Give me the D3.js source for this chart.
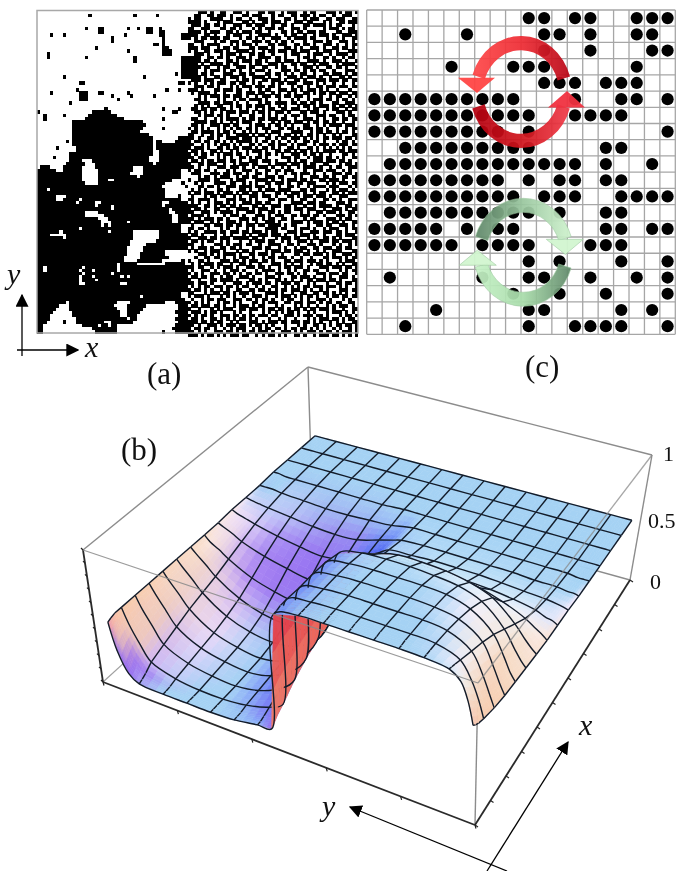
<!DOCTYPE html>
<html lang="en">
<head>
<meta charset="UTF-8">
<title>Lattice domains and density surface</title>
<script src="https://d3js.org/d3.v7.min.js"></script>
<style>
    body { margin: 0; background: #fff; }
    svg { display: block; filter: blur(0.45px); }
    text { font-family: "Liberation Serif", serif; fill: #111; }
    .it { font-style: italic; }
</style>
</head>
<body>
<svg width="676" height="871"></svg>
<script>
// ---- panel (a): black runs per row for the left columns (0-46), then the noisy right columns
const domainRuns = ["","16 30 37","","","","15 19-20 28 31 34-35 38","19-20 34-35 38-39","4 8 27 38-39 45-46","23 39 45-46","23 39","36-37 39","18 39-40","28 39-41","3 39-41 ","3 15 30 45-46","30 45-46","45-46","45-46","45-46","43 45-46","8 33 45-46","","13-14 44-45","","12 40 44","4 13-15 19-20 28","13-15 23 29 36","13-15 25","10","","21 39 44","0 17-22 42-43","2 8 16-24","2 15-26 39","11-32","11-33","11-32 39","11-31","11-34","11-35 44-46","9 11-35 37-38 43-46","11-35 37-46","6 12-35 37-46","12-35 38-46","10-35 38-46","5 10-34 38-46","10-13 17-34 38-46","9-14 18-35 37-46","1-3 8-13 18-29 33-46","0-5 8-13 19-29 33-44","0-13 19-28 33-44","0-13 19-30 32-44","0-13 19-21 24-41","0-14 19-39 45","0-38 46","0-2 4-39","0-39","0-5 9-39 44","0-5 8-12 14-44","0-11 13-17 20-38 41-46","0-17 19-22 24-38 40-46","0-22 24-40 42-46","0-14 19-40 43-46","0-14 21-41 44-46","0-18 22-41 44-46","0-19 23-27 29-41 44-46","0-19 21 23-44","0-12 14-44","0-6 8-21 23-29 38-44","0-3 9-29 38-46","0-7 9-29 38-46","0-28 37-46","0-28 34-46","0-27 33-46","0-27 33-39","0-27 32-39","0-26 32-40","0-26 31-38 45","0-24 26-30 40-45","0-1 3-13 15-24 26-46","0-1 3-12 14-16 18-24 26-46","0-13 15-22 24-46","0-12 14-16 18-25 27 29-46","0-12 14-17 19-46","0-12 15-25 28-46","0-46","0-46","0-44","0-31 33-44","0-45","0-8 10-24 29-39 43-46","0-6 10-23 28-33 44-46","0-5 10-24 28-32 44-46","0-4 11-25 28-31 43-46","0-3 11-25 28-30 44-46","0-3 12-27 29-30 43-46","0-2 8 12-20 23-29 44-46","0-1 14-18 20-21 23-24 43-46","0-1 17-24 42-46","0-1 18-24 39 43-46"];
const noiseRows = [
"...###.#..##..###.#...##.##..#.###..#.##...###.#.##.#",
"..##..##.###.#...##.###...#.##..##.###.#.##..#..###..",
"#.##...####..#.##..#..###.#...##.#..#.###..##.###..##",
"####.#...#.###...##.#..##.###.#..###.##...#.#..##.###",
".###.##.##.#..###.##.###..#..##.#...##.####.#.##...#.",
"##..###...##.##.#...#.#.###.##..###.#.....#.###.#.##.",
"####.#.###..##.#.###.##..#...##.#.##.###.##...##..###",
"###..##.#...#.###..#..####.#..#.##..#..#.###.#..###.#",
"#.#.##.###.##...#.##.#.#..###..#.####.##...#.##.#..##",
"..###...#.##.###.#..###.##.#.##.#...#..###.##..###.#.",
"##..#.####...#.#.###.#...##.###..##.##.#..###.#..#.##",
"###.###..#.##.##...##.###.#...##.#.#..###.#..##.##.#.",
"#.#..##.###.#..####.#..#.##.###.##.###..#.###.#...###",
"..###.#...#.###.#..##.##..#...#.###..#.###..#.####.#.",
"####..##.##.#..###.#..####.##.#...#.##.#..##.#..#.##.",
"####.##.#...##.#.###.##.#..##.###.#..####.#..###.#..#",
"###.#..####.#.##...#.##..###.#..##.##..#.###..#.####.",
"####.##..#.##..###.##..##..#.##..#..###.#..##.##.#..#",
"###..#.###.#.##.#..#.###.#...###.##.#.##.##..#...###.",
"###.##.#...###..##.##...##.##.#.#..##..#..##.###.#.##",
"####.#..##.#.###.#..####.#..#..###.#.###.#..#..##.#..",
".###.###..##...#.##.#..##.###.#..##.#...###.###.##.##",
"#.#..#.#.###.##.##..#.#...#.##.###..###.#.#..#..#..#.",
"..###.##.#...#.#.###.###.##.#...#.##.#..##.###.###.##",
"###.#...##.###.##..#..#.##..###.##.#.###.#.#..#...#..",
".#.####.#..#...##.###.##..#.#..#.#..##.#.##.##.###.##",
"...#.#.###.##.###.#..#.###.##.##.###.#...#..#.##..#.#",
"..##.#...#.#..#.##.####.#...#...#.#..#.###.##.#.##.#.",
"...####.##.###.#..#...#.##.####.##.##.##.#...##..###.",
"..#.#.#..##..#.##.##.###.#..#.#...#.##.#.###.#.##.#.#",
".##.##.##.##.#..#.#..#.#.##..##.###..#.##..#.##..#.##",
"..##.#.#..#.###.###.#.##.#.###.#...##.###.#...###.#..",
"...#.###.##.#...#..##..#.#.#..#.###.#...###.##..#.##.",
".##..#..#.#.####.#.##.##.###.##..#..###.#.#..##.##.##",
"..####.##.#..#.#.###..#...#.#.##.###.#.##.##.#..#..#.",
".##.#..###.##.##...#.###.#.##.#.#...##..#.#.####.###.",
"#.#.#.#..#.#.#.##.##.#.###..##.##.#.###.##.#..#..#.##",
".##.####.#.##.#..#.#.#..#.###...####..#.##.##.#.##.#.",
"##..#..#.##.#..####.#.##.#..#.##.#.#.##.#.#..#.#...##",
"##.#..##.#..####.###.#..##.#.##.###.#.#.#.##.###.##.#",
"#.##.##.##.#.#.#####.#.##.#.#..#.#..##.##.#...#.##.#.",
"##..#.#.#.###.#.#..##.#..##.###.#.###..#.###.#.###.##",
"#.###.#..##.#.##.###.#.##.#.#..##.#..##.#.#.#.#.#.#..",
".##.#..##.#..#.#..#.###.#..##.##.#.##.#.#.####.##.###",
"#.#.##.#.#.###.##.#...#.##.#.#..###.#.##.#..#...##.#.",
"##.###...#.#.#..##.#.##.#....###.##..#.###.##.#.#..##",
".##.#.##.###.##.#..###.###.#...#.#.##..###.###.##.#..",
"#..##.###..#..#.###.##...#.####.###.#.##..##...#.##.#",
"##.#..#..###.###.#..#.###.#..#.#..#.####.#..#.##..###",
"#.##.##.#...#.#..###.#..##.##.###...#..###.###..#.#..",
".###...###.##.###.#..##.#..#..#.##.###.#..#..###.##.#",
"...#.##.#.###..#.##.##..###.##...#.#..###.##.#..##.##",
"#..####.##...#.###...####.#..#.###.##.#..##.###.#...#",
"..#.#...####.##..#.#.#..##.###.#..##.###...#.#.###.##",
"...##.##.#..###.####.###.#..#..##.#..#.####.###...#.#",
".#.#.#...##.#...##.#..#.###.####...##.##...#.#.###.#.",
"#.##.###.#.###.#.##.##.#...##.#.###.#..#.##..##.#.###",
".#...#.##.##..#.#..###.###.#...##.#.###.###.#..###...",
"##.####.#...###.##.#.#...##.###.#..##..#..##.#.#..###",
".#.#..#.###.#.#..###.##.##..#...####.###.##...###.#..",
"###..##.#.##.##.#...##.#..###.##.#..#..#.####.#..##.#",
"#.##.#..##..#..####.#.###.#...##.###.###..#..###.#.##",
"##..###.#.####.#..###.#..##.#.##...#.#..##.###.#..##.",
".####.#....#.###.#...###.#.###..##.###.##.#...###.#.#",
"##.#.###.##.#...###.##.#.##..##.#...#.##...###.#.##..",
"#.###..#.#..###.#.#..#..###.#...####.#.###.#.##.#..##",
".#...##.###.##.##.###.##.####.#.##...#..##.##..###.#.",
"##.##.#...#.#..#..#.#...####.##..#.###.#..#.###..#.##",
"#.#..####.##.###.##.###.#.##...###.#..###.###.##.#..#",
".##.#...#..#.#...#.#..###.###.#..#.###.#..#...##.###.",
"#..###.##.###.#####.##.#...#.###.##..#.##.##.#.#...##",
".##.#.##..#.#...#..#.###.##..#.#..###.#..###.##.###.#",
"##..#...###.#.###.##..#..####..##.#..###.#...#.#..#.#",
".#.###.#..##.##.#...###.##..#.#..#.##..##.###.##.##..",
"#.#..#.###.#...#.##.#...#.###.##.###.#..#.#..###...##",
"...###.#.#.####.#..##.###.#..#...##.##.###.#.#..###.#",
"..#..##.##.#..#.###.#..#.##.###.#..#..#...##.###.#.##",
"#..##.#...###.##.#.###.##.#...##.###.###.#.#...#.###.",
".#.#.###.##..#..##.#..#...###.#.#..#..#.##.##.#.#..##",
"##.##..#.#.###.#..###.##.#..#.##.###.#...###.###.##.#",
".#..###.#..#.###.#...#.####.#..#.#..##.##..#...#.#.##",
"#.#.#..###.##.#.#.##.##.#..###.##.#.#...###.###.##..#",
".##.##.#..#.##..###.#...###.#...##.###.#..#.#..###.#.",
"#..#...##.####.#...##.#.#..##.#.#..#.##.###.##.#...##",
"##.###.#...#..###.#.###.##.#.###.##..#.#...#..##.##.#",
".#.#.##.###.##.#.##..#.#..##..#.#.#.##.###.###.#.#..#",
"#.##.#.#..#.#..##..##.##.#.#.##.###.#.#..#.#...###.##",
"##...#.###.##.#.###.#...####.#..#..##..##.##.#.#.#..#",
"#.###.#...#.#.#..#..###.#..#.###.#.#.##.#..#.##.##.##",
".#..#.##.###..###.##.#.##.#..#.##..#.#..###.#...#.#..",
"#.#.#.#..#.##.#.#...##.#.###..##.###.###.#.##.##..##.",
".##.###.##.#..#.###.#.##...#.#...#.#.#..#..#.#.###.#.",
"#..#...#.#.###..##.###.#.##.##.#.##.#.##.###.#..#..##",
".###.#.##.#...#.#..#...#.#.#.#.##.#..#.#...#.###.#.#.",
"#.#.##.#..###.##.#.##.###.##..###.#.###.##.#...#.##.#",
".##.#..##.#.#.#.##.#.#...#..#.#..#...#.#.###.##.#.##.",
"###.##.#.##..#.#...###.#.###.##.###.##.#.#..#.#.#..##",
"##.#..###.#.###.##.#.##.#.#...#...#.#..##.#.#.##.##.#",
"#.##.##.#..#.#.###..#.#.##.##.#.##.##.#.#.#..#.#..#.#",
"##.#.#..###.##.#.#.##.###.#..###.#.#.###.#.##.#.###.#",
"###.#.##.#.#.###.##..#.#.##.#.#..##.#..#.###.##.#.#.#"
];

// ---- panel (c): occupied columns per row of the 20x20 lattice
const occupied = [
    [10,11,13,14,17,18,19],
    [2,6,11,12,14,17,18],
    [11,14,18,19],
    [5,9,10,11,17],
    [11,12,13,15,16,17],
    [0,1,2,3,4,5,6,7,8,9,13,16,17,19],
    [0,1,2,3,4,5,6,7,8,9,10,13,14,15,16],
    [0,1,2,3,4,5,6,7,8,10,19],
    [2,3,4,5,6,7,8,9,10,15,16],
    [1,2,3,4,5,6,7,8,9,10,11,12,13,15,18],
    [0,1,2,3,4,5,6,7,8,10,12,13,15,16],
    [0,1,2,3,4,5,6,7,8,9,11,12,13,16,17,18,19],
    [1,2,3,4,5,6,7,8,9,10,12,15,16],
    [0,1,2,3,4,6,8,9,15,16,18,19],
    [0,1,2,3,4,5,7,8,9,10,14,15,16],
    [10,12,16,19],
    [1,7,10,11,14,17,19],
    [9,12,15,19],
    [4,10,11,16,18],
    [2,10,13,14,15,16,19]
];

// ---- panel (b): surface height on a grid of x and y nodes, mesh drawn on some of them
const xNodes = [0,.015,.035,.0667,.1333,.2,.2667,.3333,.4,.4667,.5333,.6,.6667,.7333,.8,.8667,.9333,1];
const yNodes = [0,.015,.035,.0667,.1333,.2,.2667,.3333,.4,.4667,.5333,.56,.6,.6667,.7333,.8,.8667,.9333,.96,.985,1];
const xMesh = [0,3,4,5,6,7,8,9,10,11,12,13,14,15,16,17];
const yMesh = [0,3,4,5,6,7,8,9,10,12,13,14,15,16,17,20];
const plateauRow = [.46,.46,.46,.46,.46,.46,.46,.46,.46,.46,.46,.46,.46,.46,.46,.46,.46,.46,.46,.46,.46];
const heights = [
    [.62,.78,.90,.96,.98,.985,.985,.985,.985,.98,.93,.06,.05,.02,.01,.01,.01,.02,.07,.22,.42],
    [.60,.76,.88,.95,.98,.985,.985,.985,.985,.98,.93,.08,.05,.02,.01,.01,.01,.03,.10,.27,.43],
    [.58,.72,.85,.94,.98,.99,.99,.99,.99,.98,.94,.11,.06,.02,.01,.01,.015,.05,.14,.30,.44],
    [.56,.68,.80,.92,.98,.99,.99,.99,.99,.98,.94,.14,.08,.03,.01,.01,.03,.09,.20,.33,.44],
    [.53,.62,.74,.88,.97,.99,.99,.99,.99,.98,.93,.22,.12,.04,.01,.02,.05,.13,.24,.35,.44],
    [.51,.58,.69,.84,.95,.98,.99,.99,.99,.98,.93,.28,.15,.05,.015,.03,.07,.17,.27,.37,.44],
    [.50,.55,.65,.79,.92,.97,.98,.98,.98,.97,.92,.33,.17,.06,.02,.04,.09,.21,.30,.38,.44],
    [.49,.53,.60,.72,.87,.93,.95,.96,.96,.95,.89,.36,.18,.07,.04,.06,.12,.24,.32,.39,.44],
    [.48,.51,.56,.65,.79,.85,.88,.89,.89,.84,.72,.38,.20,.09,.08,.10,.16,.27,.34,.40,.44],
    [.47,.50,.53,.58,.65,.70,.72,.73,.73,.70,.60,.50,.31,.15,.14,.17,.22,.31,.36,.40,.44],
    [.47,.49,.50,.53,.56,.58,.59,.60,.60,.58,.54,.50,.38,.24,.22,.25,.29,.35,.39,.42,.44],
    [.47,.48,.49,.50,.51,.52,.53,.53,.53,.52,.51,.47,.41,.33,.30,.32,.35,.39,.41,.43,.45],
    [.46,.47,.47,.48,.48,.49,.49,.49,.49,.49,.48,.46,.43,.38,.37,.38,.40,.42,.43,.44,.45],
    [.46,.46,.46,.47,.47,.47,.47,.47,.47,.47,.47,.46,.44,.43,.42,.42,.43,.44,.45,.45,.45],
    [.46,.46,.46,.46,.46,.46,.46,.46,.46,.46,.46,.46,.46,.45,.45,.45,.45,.45,.45,.46,.46],
    plateauRow,
    plateauRow,
    plateauRow
];
const zTickLabels = ["0", "0.5", "1"];

// ---- page layout
const svg = d3.select("svg");
const defs = svg.append("defs");

// panel (a)
const boxA = { left: 37, top: 10.5, right: 358, bottom: 333 };
const colA = d3.scaleLinear().domain([0, 100]).range([boxA.left, boxA.right]);
const rowA = d3.scaleLinear().domain([0, 100]).range([boxA.top, boxA.bottom]);
const gA = svg.append("g").attr("shape-rendering", "crispEdges");
const cellsA = [];
domainRuns.forEach((runs, r) => {
    runs.trim().split(/\s+/).filter(s => s).forEach(s => {
        const [a, b] = s.split("-").map(Number);
        cellsA.push({ r: r, c0: a, c1: (b === undefined ? a : b) + 1 });
    });
});
noiseRows.forEach((row, r) => {
    row.slice(0, 53).split("").forEach((ch, i) => {
        if (ch === "#") cellsA.push({ r: r, c0: 47 + i, c1: 48 + i });
    });
});
gA.selectAll("rect.cell").data(cellsA).enter().append("rect")
    .attr("class", "cell")
    .attr("x", d => colA(d.c0))
    .attr("y", d => rowA(d.r))
    .attr("width", d => colA(d.c1) - colA(d.c0))
    .attr("height", d => rowA(d.r + 1) - rowA(d.r) + 0.5)
    .attr("fill", "#000");
svg.append("rect")
    .attr("x", boxA.left).attr("y", boxA.top)
    .attr("width", boxA.right - boxA.left).attr("height", boxA.bottom - boxA.top)
    .attr("fill", "none").attr("stroke", "#a8a8a8").attr("stroke-width", 1.5);

// arrow markers
defs.append("marker").attr("id", "head")
    .attr("viewBox", "0 0 10 10").attr("refX", 9).attr("refY", 5)
    .attr("markerWidth", 13).attr("markerHeight", 13).attr("markerUnits", "userSpaceOnUse")
    .attr("orient", "auto")
    .append("path").attr("d", "M0,0L10,5L0,10Z").attr("fill", "#000");

function arrow(x1, y1, x2, y2) {
    svg.append("line")
        .attr("x1", x1).attr("y1", y1).attr("x2", x2).attr("y2", y2)
        .attr("stroke", "#000").attr("stroke-width", 1.3)
        .attr("marker-end", "url(#head)");
}
arrow(22, 356, 22, 295);
arrow(17, 350, 78, 350);
svg.append("text").attr("class", "it").attr("x", 7).attr("y", 284).attr("font-size", 30).text("y");
svg.append("text").attr("class", "it").attr("x", 85).attr("y", 357).attr("font-size", 30).text("x");
svg.append("text").attr("x", 147).attr("y", 384).attr("font-size", 31).text("(a)");
svg.append("text").attr("x", 525).attr("y", 377).attr("font-size", 31).text("(c)");
svg.append("text").attr("x", 121).attr("y", 460).attr("font-size", 31).text("(b)");

// panel (c)
const boxC = { left: 366.7, top: 10, right: 675.3, bottom: 334.3 };
const colC = d3.scaleLinear().domain([0, 20]).range([boxC.left, boxC.right]);
const rowC = d3.scaleLinear().domain([0, 20]).range([boxC.top, boxC.bottom]);
const gC = svg.append("g");
gC.selectAll("line.v").data(d3.range(21)).enter().append("line")
    .attr("x1", d => colC(d)).attr("x2", d => colC(d))
    .attr("y1", boxC.top).attr("y2", boxC.bottom)
    .attr("stroke", "#a6a6a6").attr("stroke-width", 1.3);
gC.selectAll("line.h").data(d3.range(21)).enter().append("line")
    .attr("y1", d => rowC(d)).attr("y2", d => rowC(d))
    .attr("x1", boxC.left).attr("x2", boxC.right)
    .attr("stroke", "#a6a6a6").attr("stroke-width", 1.3);
const dots = occupied.flatMap((cols, r) => cols.map(c => ({ r: r, c: c })));
gC.selectAll("circle").data(dots).enter().append("circle")
    .attr("cx", d => colC(d.c + 0.5))
    .attr("cy", d => rowC(d.r + 0.5))
    .attr("r", 6.1)
    .attr("fill", "#000");

function gradient(id, stops) {
    const g = defs.append("linearGradient").attr("id", id)
        .attr("gradientUnits", "userSpaceOnUse")
        .attr("x1", -52).attr("x2", 52).attr("y1", 0).attr("y2", 0);
    stops.forEach((c, i) => g.append("stop").attr("offset", i / (stops.length - 1)).attr("stop-color", c));
}
gradient("redTop", ["#ff4a4a", "#ee2c34", "#b40414"]);
gradient("redBot", ["#b40010", "#d0141c", "#f23e4c"]);
gradient("greenTop", ["#587f62", "#9ac79f", "#d4f7d2"]);
gradient("greenBot", ["#c8f3c8", "#a8dcaa", "#587f62"]);

// one rotation sign: two arcs and their heads, all relative to the centre
function cycle(cx, cy, sy, outer, inner, top, bottom) {
    const g = gC.append("g").attr("transform", `translate(${cx},${cy}) scale(1,${sy})`);
    [top, bottom].forEach(a => {
        g.append("path")
            .attr("d", d3.arc().innerRadius(inner).outerRadius(outer)
                .startAngle(a.from * Math.PI / 180).endAngle(a.to * Math.PI / 180)())
            .attr("fill", `url(#${a.fill})`)
            .attr("stroke", a.edge).attr("stroke-width", a.edge === "none" ? 0 : 0.6)
            .attr("opacity", 0.93);
        g.append("path")
            .attr("d", d3.line()(a.head) + "Z")
            .attr("fill", a.headFill)
            .attr("stroke", a.edge).attr("stroke-width", a.edge === "none" ? 0 : 0.6)
            .attr("opacity", 0.95);
    });
}
cycle(521, 92, 1.1, 51, 38,
    { from: -72, to: 74, fill: "redTop", edge: "none", headFill: "#ff4644", head: [[-63, -13], [-26, -13], [-44, 1]] },
    { from: 107, to: 253, fill: "redBot", edge: "none", headFill: "#f03240", head: [[27, 14], [64, 14], [46, -1]] });
cycle(523.3, 252.3, 1.08, 50, 37,
    { from: -73, to: 73, fill: "greenTop", edge: "#9cc8a0", headFill: "#d2f6d0", head: [[23, -12], [60, -12], [42, 2]] },
    { from: 107, to: 254, fill: "greenBot", edge: "#9cc8a0", headFill: "#d2f6d0", head: [[-64, 12], [-27, 12], [-46, -2]] });

// panel (b): box corners as seen in the picture
const floorC = { F: [475, 825], R: [630, 580], B: [312, 492], L: [103, 682] };
const topC = { F: [478, 683], R: [652, 455], B: [308, 367], L: [83, 550] };
const lerp = (a, b, t) => [a[0] + (b[0] - a[0]) * t, a[1] + (b[1] - a[1]) * t];
function bilerp(c, x, y) { return lerp(lerp(c.F, c.R, x), lerp(c.L, c.B, x), y); }
const domX = d3.scaleLinear().domain([0, 1]).range([0.035, 1]);
const domY = d3.scaleLinear().domain([0, 1]).range([0.025, 0.985]);
function project(x, y, z) {
    return lerp(bilerp(floorC, domX(x), domY(y)), bilerp(topC, domX(x), domY(y)), z);
}

const boxLine = (a, b, col, w) => svg.append("line")
    .attr("x1", a[0]).attr("y1", a[1]).attr("x2", b[0]).attr("y2", b[1])
    .attr("stroke", col).attr("stroke-width", w);

// back edges go under the surface
boxLine(topC.L, topC.B, "#8c8c8c", 1.4);
boxLine(topC.B, topC.R, "#8c8c8c", 1.4);
boxLine(topC.B, floorC.B, "#8c8c8c", 1.4);
boxLine(topC.R, floorC.R, "#8c8c8c", 1.4);
boxLine(floorC.R, lerp(floorC.R, floorC.B, 0.26), "#8c8c8c", 1.4);
boxLine(floorC.L, lerp(floorC.L, floorC.B, 0.14), "#a0a0a0", 1.2);
boxLine(floorC.F, topC.F, "#8c8c8c", 1.4);
boxLine(topC.L, floorC.L, "#2a2a2a", 1.8);
boxLine(floorC.L, floorC.F, "#2a2a2a", 1.8);
boxLine(floorC.F, floorC.R, "#2a2a2a", 1.8);

function edgeTicks(a, b, count, dx, dy) {
    const s = d3.scaleLinear().domain([0, 1]);
    s.ticks(count).forEach(t => {
        const p = lerp(a, b, s(t));
        boxLine(p, [p[0] + dx, p[1] + dy], "#222", 1.2);
    });
}
edgeTicks(floorC.L, topC.L, 10, -2, -2);
edgeTicks(floorC.L, floorC.F, 5, 1, 3.5);
edgeTicks(floorC.F, floorC.R, 10, 3, 2);

// surface colours from the slope of the height
const sky = "#a5d2f4";
const riseY = d3.scaleLinear().domain([0, .14, .32, .6, .86, .975, .995])
    .range([sky, "#c4dcf8", "#f6eafb", "#fae8e0", "#f8d8c0", "#f8c8a8", "#ff8c94"]).clamp(true);
const fallY = d3.scaleLinear().domain([0, .25, .6, 1])
    .range([sky, "#7f9ff8", "#4058f0", "#2a32d0"]).clamp(true);
const riseX = d3.scaleLinear().domain([0, .2, .4, .6]).range([0, .2, .8, 1]).clamp(true);
const minmod = (a, b) => a * b <= 0 ? 0 : (Math.abs(a) < Math.abs(b) ? a : b);

function nodeColor(i, j) {
    const dx = k => (heights[k + 1][j] - heights[k][j]) / (xNodes[k + 1] - xNodes[k]);
    const dy = k => (heights[i][k + 1] - heights[i][k]) / (yNodes[k + 1] - yNodes[k]);
    const p = 0.5 * (i === 0 ? dx(0) : i === xNodes.length - 1 ? dx(i - 1) : minmod(dx(i - 1), dx(i)));
    const q = 0.5 * (j === 0 ? dy(0) : j === yNodes.length - 1 ? dy(j - 1) : minmod(dy(j - 1), dy(j)));
    const len = Math.hypot(p, q, 1);
    const ny = q / len, nx = p / len;
    let c = ny >= 0 ? riseY(ny) : fallY(-ny);
    if (nx > 0) c = d3.interpolateRgb(c, "#9468f0")(riseX(nx));
    else c = d3.interpolateRgb(c, "#e8f8fd")(Math.min(1, -nx * 1.2));
    return c;
}
const nodeColors = xNodes.map((_, i) => yNodes.map((_, j) => nodeColor(i, j)));

const wallColor = d3.scaleLinear().domain([0, .5, 1]).range(["#f08e74", "#ea5f58", "#de3246"]);

const gB = svg.append("g");
const meshLine = d3.line().curve(d3.curveCatmullRom.alpha(0.5));
const meshColor = "#131c2a";
const meshStyle = sel => sel.attr("fill", "none").attr("stroke", meshColor).attr("stroke-width", 1.4);
const sub = 3;

function drawYLine(i) {
    const pts = yNodes.map((y, j) => project(xNodes[i], y, heights[i][j]));
    gB.append("path").attr("d", meshLine(pts)).call(meshStyle);
}

for (let i = xNodes.length - 2; i >= 0; i--) {
    for (let j = yNodes.length - 2; j >= 0; j--) {
        const corners = [[i, j], [i + 1, j], [i + 1, j + 1], [i, j + 1]]
            .map(([a, b]) => project(xNodes[a], yNodes[b], heights[a][b]));
        const back = d3.polygonArea(corners) < 0;
        for (let a = sub - 1; a >= 0; a--) {
            for (let b = sub - 1; b >= 0; b--) {
                const pt = (u, v) => {
                    const x = d3.interpolateNumber(xNodes[i], xNodes[i + 1])(u);
                    const y = d3.interpolateNumber(yNodes[j], yNodes[j + 1])(v);
                    const z0 = d3.interpolateNumber(heights[i][j], heights[i][j + 1])(v);
                    const z1 = d3.interpolateNumber(heights[i + 1][j], heights[i + 1][j + 1])(v);
                    return [x, y, d3.interpolateNumber(z0, z1)(u)];
                };
                const u0 = a / sub, u1 = (a + 1) / sub, v0 = b / sub, v1 = (b + 1) / sub;
                const q = [pt(u0, v0), pt(u1, v0), pt(u1, v1), pt(u0, v1)];
                const um = (u0 + u1) / 2, vm = (v0 + v1) / 2;
                let fill;
                if (back) {
                    fill = wallColor(pt(um, vm)[2]);
                } else {
                    const c0 = d3.interpolateRgb(nodeColors[i][j], nodeColors[i][j + 1])(vm);
                    const c1 = d3.interpolateRgb(nodeColors[i + 1][j], nodeColors[i + 1][j + 1])(vm);
                    fill = d3.interpolateRgb(c0, c1)(um);
                }
                gB.append("path")
                    .attr("d", d3.line()(q.map(d => project(d[0], d[1], d[2]))) + "Z")
                    .attr("fill", fill).attr("stroke", fill).attr("stroke-width", 0.6);
            }
        }
    }
    // mesh for this strip, after its fill so the shared line stays whole
    yMesh.forEach(j => {
        gB.append("line")
            .attr("x1", project(xNodes[i], yNodes[j], heights[i][j])[0])
            .attr("y1", project(xNodes[i], yNodes[j], heights[i][j])[1])
            .attr("x2", project(xNodes[i + 1], yNodes[j], heights[i + 1][j])[0])
            .attr("y2", project(xNodes[i + 1], yNodes[j], heights[i + 1][j])[1])
            .attr("stroke", meshColor).attr("stroke-width", 1.4);
    });
    if (xMesh.includes(i + 1) || i + 1 === xNodes.length - 1) drawYLine(i + 1);
}
drawYLine(0);

// front edges of the box show over the surface
boxLine(topC.L, topC.F, "#8a8a8a", 1.3).attr("opacity", 0.85);
boxLine(topC.F, topC.R, "#8a8a8a", 1.3).attr("opacity", 0.75);

// axis numbers, close to the page edge as in the picture
const zLabelY = d3.scaleOrdinal().domain(zTickLabels).range([589, 528, 461]);
const zLabelX = d3.scaleOrdinal().domain(zTickLabels).range([650, 648, 663]);
svg.selectAll("text.z").data(zTickLabels).enter().append("text")
    .attr("class", "z")
    .attr("x", d => zLabelX(d)).attr("y", d => zLabelY(d))
    .attr("font-size", 22)
    .text(d => d);

arrow(507, 871, 350, 807);
arrow(487, 871, 568, 742);
svg.append("text").attr("class", "it").attr("x", 322).attr("y", 816).attr("font-size", 30).text("y");
svg.append("text").attr("class", "it").attr("x", 579).attr("y", 735).attr("font-size", 30).text("x");
</script>
</body>
</html>
